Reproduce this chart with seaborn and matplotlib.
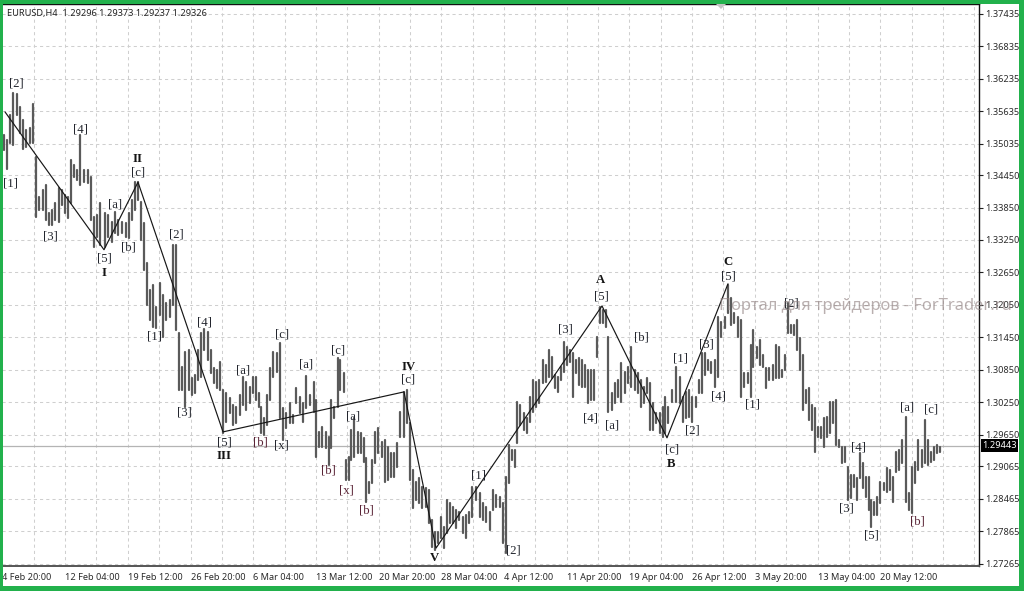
import matplotlib
matplotlib.use("Agg")
import matplotlib.pyplot as plt
from matplotlib.patches import Rectangle, Polygon
import pandas as pd
import seaborn as sns

bar_pos = [0,1.5,3,4.5,6.5,8,9.5,11,13,14.5, 16,17.5,19.5,21,22.5,24,25.5,27.5,29,30.5,
 32,33.5,35,36.5,38,40,42,43.5,45,46.5, 48,50.5,52,54,55.5,57,59,61,62.5,64,
 65.5,67,68.5,70,71.5,73,74.5,76,78,79.5, 81,83,84.5,86,87.5,89,90.5,92.5,94,95.5,
 97,98.5,100,102,103.5,105,106.5,108,109.5,111, 113,114.5,116,118,119.5,121,123,124.5,126,127.5,
 128.5,130,131.5,133,134.5,136.5,138,139.5,141,143, 144.5,146,148,149.5,151,153,155,156,157.5,159,
 161,162.5,163.5,165,167,168,170,171,172.5,173.5, 175,177,178.5,180,181,182.5,184,185.5,187,189,
 190.5,192,193.5,195,196.5,198,200,201.5,203,204.5, 206,207.5,209,211,212.5,214,215.5,217,218.5,220,
 221.5,223,224.5,226,227.5,229.5,231,232.5,234,236, 238,239.5,241,243,244.5,246,248,249.5,251,252.5,
 254,255.5,256.5,258,260,261.5,263,264.5,266,267.5, 269.5,271,272.5,274,275.5,277,278.5,280,281.5,283,
 284.5,286,287.5,289,290.5,292,293.5,295,296.5,298, 299.5,301,302,304,305.5,307,308.5,310.5,312,313.5,
 315.5,317,318.5,320,321.5,323,324.5,326,328,329.5, 330.5,332,334,336,338,339.5,341,342.5,344,346,
 347.5,349,350.5,352,353.5,355.5,357,358.5,360.5,362, 363.5,365,367,368.5,370,372,373.5,374.5,376.5,378,
 379.5,381,382.5,384.5,386,387.5,389,390.5,392,393.5, 395,396.5,398,399.5,401,402.5,404,405.5,407,408.5,
 410,411.5,413,414.5,416,417.5,419,420.5,422,423.5, 425,426.5,428,429.5,431,432.5,433.5,435,436.5,438,
 440,441.5,443,444.5,446,447.5,449,451,452.5,454, 455.5,457,459,460.5,462,463.5,465,466.5,468]

highs = [1.3519,1.3510,1.3556,1.3597,1.3595,1.3571,1.3547,1.3528,1.3532,1.3577,
 1.3479,1.3405,1.3418,1.3427,1.3375,1.3381,1.3393,1.3421,1.3418,1.3408,
 1.3405,1.3473,1.3464,1.3455,1.3519,1.3455,1.3455,1.3442,1.3368,1.3371,
 1.3393,1.3375,1.3371,1.3358,1.3377,1.3362,1.3358,1.3356,1.3375,1.3399,
 1.3432,1.3432,1.3395,1.3356,1.3282,1.3232,1.3242,1.3201,1.3245,1.3223,
 1.3208,1.3214,1.3316,1.3316,1.3153,1.3090,1.3118,1.3122,1.3070,1.3075,
 1.3122,1.3153,1.3160,1.3155,1.3122,1.3088,1.3085,1.3099,1.3047,1.3042,
 1.3033,1.3020,1.3016,1.3038,1.3071,1.3062,1.3053,1.3071,1.3071,1.3042,
 1.3016,1.2996,1.3038,1.3088,1.3118,1.3116,1.3134,1.3014,1.3005,1.3023,
 1.3001,1.3051,1.3035,1.3023,1.3073,1.3038,1.3062,1.3029,1.2970,1.2979,
 1.2970,1.2961,1.3029,1.3016,1.3107,1.3103,1.3079,1.2918,1.2924,1.2974,
 1.2996,1.2970,1.2968,1.2959,1.2922,1.2877,1.2918,1.2970,1.2977,1.2951,
 1.2955,1.2942,1.2931,1.2931,1.2949,1.3007,1.3044,1.3047,1.2986,1.2899,
 1.2877,1.2885,1.2868,1.2866,1.2862,1.2807,1.2785,1.2785,1.2813,1.2794,
 1.2844,1.2838,1.2831,1.2825,1.2822,1.2813,1.2816,1.2822,1.2868,1.2868,
 1.2857,1.2838,1.2831,1.2822,1.2862,1.2853,1.2849,1.2838,1.2887,1.2946,
 1.2937,1.2937,1.3025,1.3020,1.3005,1.2996,1.3035,1.3066,1.3062,1.3066,
 1.3103,1.3094,1.3122,1.3109,1.3075,1.3071,1.3090,1.3136,1.3127,1.3122,
 1.3116,1.3103,1.3107,1.3103,1.3094,1.3085,1.3085,1.3085,1.3146,1.3201,
 1.3196,1.3196,1.3146,1.3042,1.3060,1.3066,1.3097,1.3081,1.3090,1.3127,
 1.3085,1.3079,1.3066,1.3053,1.3070,1.3060,1.3023,1.3005,1.3005,1.3016,
 1.3035,1.3016,1.3047,1.3090,1.3072,1.3035,1.3044,1.3047,1.3035,1.3035,
 1.3066,1.3116,1.3116,1.3103,1.3099,1.3103,1.3183,1.3173,1.3183,1.3242,
 1.3218,1.3190,1.3183,1.3177,1.3079,1.3079,1.3131,1.3159,1.3127,1.3140,
 1.3112,1.3088,1.3088,1.3094,1.3131,1.3127,1.3085,1.3112,1.3208,1.3168,
 1.3168,1.3177,1.3144,1.3112,1.3047,1.3051,1.3020,1.3014,1.2979,1.2979,
 1.2996,1.2998,1.3025,1.3025,1.3029,1.2955,1.2942,1.2942,1.2905,1.2890,
 1.2890,1.2885,1.2931,1.2912,1.2887,1.2887,1.2844,1.2840,1.2849,1.2877,
 1.2875,1.2903,1.2899,1.2887,1.2933,1.2937,1.2955,1.2998,1.2857,1.2905,
 1.2914,1.2955,1.2937,1.2992,1.2955,1.2933,1.2942,1.2946,1.2942]

lows = [1.3492,1.3456,1.3504,1.3501,1.3556,1.3523,1.3493,1.3497,1.3504,1.3504,
 1.3368,1.3381,1.3381,1.3362,1.3353,1.3353,1.3362,1.3358,1.3390,1.3375,
 1.3366,1.3393,1.3442,1.3436,1.3427,1.3432,1.3430,1.3362,1.3312,1.3331,
 1.3316,1.3312,1.3331,1.3321,1.3338,1.3334,1.3338,1.3331,1.3329,1.3362,
 1.3381,1.3399,1.3325,1.3269,1.3205,1.3177,1.3164,1.3162,1.3186,1.3146,
 1.3177,1.3183,1.3205,1.3159,1.3047,1.3047,1.3016,1.3047,1.3038,1.3042,
 1.3066,1.3072,1.3122,1.3103,1.3079,1.3060,1.3051,1.3047,1.2968,1.2988,
 1.3005,1.2983,1.2986,1.3001,1.3020,1.3010,1.3023,1.3042,1.3029,1.3016,
 1.2968,1.2964,1.2983,1.3029,1.3072,1.3081,1.2996,1.2955,1.2977,1.2986,
 1.2986,1.3023,1.3005,1.2988,1.3014,1.3020,1.3007,1.2924,1.2942,1.2942,
 1.2940,1.2909,1.2940,1.2996,1.3016,1.3047,1.3044,1.2881,1.2881,1.2918,
 1.2924,1.2931,1.2931,1.2914,1.2840,1.2857,1.2875,1.2912,1.2931,1.2924,
 1.2877,1.2881,1.2887,1.2887,1.2905,1.2961,1.2961,1.2986,1.2881,1.2829,
 1.2844,1.2838,1.2829,1.2831,1.2801,1.2757,1.2752,1.2764,1.2774,1.2755,
 1.2783,1.2801,1.2801,1.2792,1.2807,1.2783,1.2774,1.2801,1.2813,1.2844,
 1.2813,1.2807,1.2803,1.2789,1.2825,1.2831,1.2831,1.2764,1.2746,1.2875,
 1.2918,1.2905,1.2949,1.2983,1.2974,1.2968,1.2988,1.3007,1.3016,1.3023,
 1.3060,1.3062,1.3072,1.3070,1.3051,1.3044,1.3066,1.3081,1.3094,1.3099,
 1.3034,1.3079,1.3057,1.3053,1.3053,1.3023,1.3029,1.3029,1.3109,1.3171,
 1.3171,1.3164,1.3007,1.3010,1.3023,1.3034,1.3025,1.3042,1.3060,1.3053,
 1.3047,1.3042,1.3016,1.3023,1.3042,1.2974,1.2974,1.2986,1.2968,1.2961,
 1.2968,1.2986,1.3025,1.3025,1.3023,1.2988,1.2996,1.2998,1.2988,1.3016,
 1.3042,1.3042,1.3075,1.3085,1.3079,1.3053,1.3072,1.3146,1.3162,1.3190,
 1.3168,1.3171,1.3146,1.3034,1.3053,1.3060,1.3034,1.3090,1.3107,1.3094,
 1.3090,1.3051,1.3066,1.3066,1.3070,1.3070,1.3072,1.3085,1.3153,1.3153,
 1.3149,1.3122,1.3085,1.3010,1.3023,1.2992,1.2974,1.2933,1.2961,1.2959,
 1.2942,1.2961,1.2968,1.2986,1.2946,1.2942,1.2912,1.2914,1.2844,1.2848,
 1.2868,1.2844,1.2885,1.2866,1.2849,1.2825,1.2794,1.2816,1.2816,1.2838,
 1.2862,1.2859,1.2862,1.2840,1.2896,1.2899,1.2912,1.2840,1.2825,1.2820,
 1.2875,1.2899,1.2905,1.2912,1.2909,1.2914,1.2918,1.2931,1.2933]

wave_pos = [0.5, 50, 67, 109.5, 200, 216, 299, 331.5, 362]
wave_price = [1.3562, 1.3307, 1.3432, 1.2970, 1.3044, 1.2755, 1.3203, 1.2959, 1.3244]

y_ticks = [1.37435,1.36835,1.36235,1.35635,1.35035,1.34450,1.33850,1.33250,1.32650,
           1.32050,1.31450,1.30850,1.30250,1.29650,1.29065,1.28465,1.27865,1.27265]
y_tick_labels = ["%.5f" % v for v in y_ticks]
x_tick_labels = ["4 Feb 20:00","12 Feb 04:00","19 Feb 12:00","26 Feb 20:00","6 Mar 04:00",
                 "13 Mar 12:00","20 Mar 20:00","28 Mar 04:00","4 Apr 12:00","11 Apr 20:00",
                 "19 Apr 04:00","26 Apr 12:00","3 May 20:00","13 May 04:00","20 May 12:00"]
last_price = 1.29443
header = "EURUSD,H4  1.29296 1.29373 1.29237 1.29326"
watermark = "Портал для трейдеров - ForTrader.ru"

# (text, bar position, price of the label centre)
wave_labels = [("[2]",6,1.3614),("[1]",3,1.3430),("[3]",23,1.3332),("[4]",38.5,1.3530),
 ("[a]",55.5,1.3391),("[c]",67,1.3449),("[b]",62,1.3312),("[5]",50,1.3290),
 ("[2]",86,1.3336),("[1]",75,1.3147),("[4]",100,1.3173),("[3]",90,1.3005),
 ("[5]",110,1.2951),("[a]",119.5,1.3084),("[b]",128,1.2951),("[x]",138.5,1.2944),
 ("[c]",139,1.3151),("[a]",151,1.3094),("[c]",167,1.3120),("[a]",174.5,1.2999),
 ("[b]",162,1.2898),("[x]",171,1.2862),("[b]",181,1.2825),("[c]",202,1.3066),
 ("[1]",237,1.2890),("[2]",254.5,1.2750),("[3]",280.5,1.3160),("[4]",293.5,1.2995),
 ("[5]",298.5,1.3221),("[a]",304,1.2981),("[b]",318.5,1.3144),("[c]",334,1.2938),
 ("[1]",338,1.3105),("[2]",344,1.2973),("[3]",351,1.3131),("[4]",357,1.3036),
 ("[5]",362,1.3258),("[1]",374.5,1.3020),("[2]",393.5,1.3208),("[3]",421,1.2829),
 ("[4]",427.5,1.2942),("[5]",433.5,1.2779),("[a]",451.5,1.3016),("[b]",456.5,1.2805),
 ("[c]",463.5,1.3012)]
wave_names = [("I",50,1.3264),("II",67,1.3475),("III",110,1.2925),("IV",202.5,1.3090),
 ("V",215,1.2737),("A",298.5,1.3251),("B",333.5,1.2911),("C",362,1.3284)]
maroon_labels = {("[b]",162),("[b]",181),("[x]",171),("[b]",456.5),("[b]",128)}

sns.set_theme(style="white", rc={"axes.facecolor": "white", "figure.facecolor": "white"})
plt.rcParams["font.family"] = ["Noto Sans", "DejaVu Sans"]

W, H = 1024, 591
fig = plt.figure(figsize=(W/100, H/100), dpi=100)
L, T, R, B = 2, 4, 979, 566
ax = fig.add_axes([L/W, 1-B/H, (R-L)/W, (B-T)/H])
ax.set_xlim(-1, 487.5)
ax.set_ylim(1.27219, 1.37616)

grid_c = "#cfcfcf"
minor_step = 15.675
grid_x = [-0.8 + minor_step*k for k in range(32)]
for gx in grid_x:
    ax.axvline(gx, color=grid_c, lw=0.75, ls=(0, (3, 3)), zorder=0)
for gy in y_ticks:
    ax.axhline(gy, color=grid_c, lw=0.75, ls=(0, (3, 3)), zorder=0)
ax.axhline(last_price, color="#b4b4b4", lw=0.9, zorder=1)

bars = pd.DataFrame({"bar": bar_pos*2, "price": highs+lows})
sns.lineplot(data=bars, x="bar", y="price", units="bar", estimator=None, sort=False,
             color="#5a5a5a", lw=1.6, ax=ax, legend=False, zorder=2)
waves = pd.DataFrame({"bar": wave_pos, "price": wave_price})
sns.lineplot(data=waves, x="bar", y="price", estimator=None, sort=False,
             color="#161616", lw=0.85, ax=ax, legend=False, zorder=3)

for t, x, y in wave_labels:
    c = "#5a2436" if (t, x) in maroon_labels else "#23262e"
    ax.text(x, y, t, family="Liberation Serif", fontsize=9.2, color=c, ha="center", va="center", zorder=4)
for t, x, y in wave_names:
    ax.text(x, y, t, family="Liberation Serif", fontsize=9.2, fontweight="bold", color="#151515",
            ha="center", va="center", zorder=4)

ax.set_xlabel(""); ax.set_ylabel("")
ax.yaxis.tick_right()
ax.set_yticks(y_ticks); ax.set_yticklabels(y_tick_labels)
ax.set_xticks(grid_x[::2][:len(x_tick_labels)])
ax.set_xticklabels(x_tick_labels, ha="left")
ax.tick_params(axis="y", length=3, width=0.8, color="#222222", labelsize=6.6, labelcolor="#2a2a2a", pad=1.5)
ax.tick_params(axis="x", length=3, width=0.8, color="#222222", labelsize=6.6, labelcolor="#2a2a2a", pad=2)
for s, w, c in [("top",1.0,"#111111"),("right",1.0,"#111111"),("bottom",1.4,"#555555"),("left",0,"white")]:
    ax.spines[s].set_visible(w > 0); ax.spines[s].set_linewidth(w); ax.spines[s].set_color(c)

def px(x, y):
    return x/W, 1-y/H

fig.text(*px(7, 13.5), header, fontsize=6.6, color="#222222", ha="left", va="center")
fig.add_artist(Polygon([px(716,4), px(726,4), px(721,9)], closed=True, transform=fig.transFigure,
                       fc="#c4c4c4", ec="none", zorder=5))
fig.add_artist(Rectangle(px(981,452), 37/W, 13/H, transform=fig.transFigure, fc="black", ec="none", zorder=5))
fig.text(*px(999.5, 445.5), "%.5f" % last_price, fontsize=6.6, color="white", fontweight="bold",
         ha="center", va="center", zorder=6)
fig.text(*px(865.5, 306), watermark, fontsize=11.9, color="#8f7f7f", alpha=0.62,
         ha="center", va="center", zorder=7)

green = "#22b14c"
for x0, y0, w, h in [(0,0,W,4),(0,586,W,5),(0,0,3,H),(1019,0,5,H)]:
    fig.add_artist(Rectangle(px(x0, y0+h), w/W, h/H, transform=fig.transFigure, fc=green, ec="none", zorder=8))

fig.savefig("out.png", dpi=100)
